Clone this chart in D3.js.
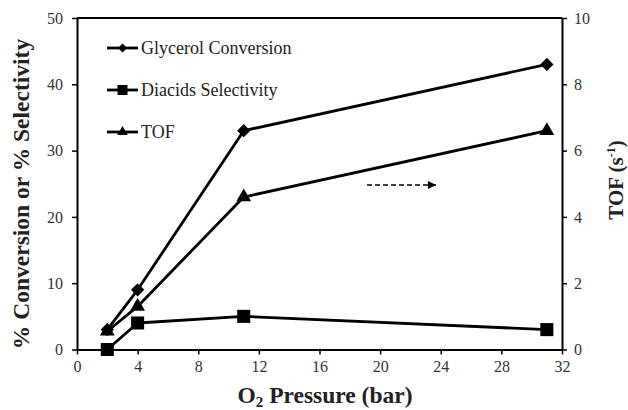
<!DOCTYPE html>
<html><head><meta charset="utf-8">
<script src="https://d3js.org/d3.v7.min.js"></script>
<style>body{margin:0;background:#fff}svg{display:block}
text{font-family:"Liberation Serif" !important;}</style>
</head><body>
<svg id="c" width="628" height="410" font-family="Liberation Serif"></svg>
<script>
const pressure = [2, 4, 11, 31];
const glycerolConversion = [3, 9, 33, 43];
const diacidsSelectivity = [0, 4, 5, 3];
const tof = [0.55, 1.3, 4.6, 6.6];
const xTicks = [0, 4, 8, 12, 16, 20, 24, 28, 32];
const yLeftTicks = [0, 10, 20, 30, 40, 50];
const yRightTicks = [0, 2, 4, 6, 8, 10];
const legendLabels = ["Glycerol Conversion", "Diacids Selectivity", "TOF"];

const svg = d3.select("#c");
const L = 77, R = 562, T = 18, B = 349.5;
const x = d3.scaleLinear().domain([0, 32]).range([L, R]);
const yL = d3.scaleLinear().domain([0, 50]).range([B, T]);
const yR = d3.scaleLinear().domain([0, 10]).range([B, T]);
const font = "Liberation Serif";

// square-ish diamond symbol (size = half diagonal squared)
const squareDiamond = {draw(ctx, size) {
  const r = Math.sqrt(size);
  ctx.moveTo(0, -r); ctx.lineTo(r, 0); ctx.lineTo(0, r); ctx.lineTo(-r, 0); ctx.closePath();
}};

svg.append("line").attr("x1", L).attr("x2", R).attr("y1", T).attr("y2", T)
  .attr("stroke", "#000").attr("stroke-width", 2);

function styleAxis(g) {
  g.attr("font-family", font);
  g.select(".domain").attr("stroke-width", 2);
  g.selectAll(".tick line").attr("stroke-width", 1.5);
  g.selectAll(".tick text").style("font-family", font).style("font-size", "16px").attr("fill", "#333");
}
svg.append("g").attr("transform", `translate(0,${B})`)
  .call(d3.axisBottom(x).tickValues(xTicks).tickSize(5).tickSizeOuter(0).tickPadding(6))
  .call(styleAxis);
svg.append("g").attr("transform", `translate(${L},0)`)
  .call(d3.axisLeft(yL).tickValues(yLeftTicks).tickSize(5).tickSizeOuter(0).tickPadding(9))
  .call(styleAxis);
svg.append("g").attr("transform", `translate(${R},0)`)
  .call(d3.axisRight(yR).tickValues(yRightTicks).tickSize(5).tickSizeOuter(0).tickPadding(7))
  .call(styleAxis);

const series = [
  {vals: glycerolConversion, y: yL, sym: squareDiamond, size: 44, lsize: 20},
  {vals: diacidsSelectivity, y: yL, sym: d3.symbolSquare, size: 170, lsize: 100},
  {vals: tof, y: yR, sym: d3.symbolTriangle, size: 95, lsize: 48}
];
series.forEach(s => {
  const line = d3.line().x((d, i) => x(pressure[i])).y(d => s.y(d));
  svg.append("path").datum(s.vals).attr("d", line).attr("fill", "none")
    .attr("stroke", "#000").attr("stroke-width", 2.8).attr("stroke-linejoin", "round");
  svg.selectAll(null).data(s.vals).enter().append("path")
    .attr("d", d3.symbol().type(s.sym).size(s.size))
    .attr("transform", (d, i) => `translate(${x(pressure[i])},${s.y(d)})`)
    .attr("fill", "#000");
});

const legY = [48, 90, 132];
series.forEach((s, i) => {
  const g = svg.append("g").attr("transform", `translate(107,${legY[i]})`);
  g.append("line").attr("x1", 0).attr("x2", 31).attr("stroke", "#000").attr("stroke-width", 2.8);
  g.append("path").attr("d", d3.symbol().type(s.sym).size(s.lsize)).attr("transform", "translate(15.5,0)");
  g.append("text").attr("x", 34).attr("y", 6).style("font-family", font).style("font-size", "18px")
    .attr("fill", "#222").text(legendLabels[i]);
});

svg.append("defs").append("marker").attr("id", "ah").attr("viewBox", "0 0 10 10")
  .attr("refX", 10).attr("refY", 5).attr("markerWidth", 8).attr("markerHeight", 8)
  .attr("markerUnits", "userSpaceOnUse").attr("orient", "auto")
  .append("path").attr("d", "M0,0L10,5L0,10Z").attr("fill", "#000");
svg.append("line").attr("x1", 367).attr("x2", 436).attr("y1", 185).attr("y2", 185)
  .attr("stroke", "#000").attr("stroke-width", 1.5).attr("stroke-dasharray", "5,3")
  .attr("marker-end", "url(#ah)");

const xt = svg.append("text").attr("x", 325).attr("y", 403).attr("text-anchor", "middle")
  .style("font-family", font).style("font-weight", "bold").style("font-size", "23.5px").attr("fill", "#222");
xt.append("tspan").text("O");
xt.append("tspan").style("font-size", "15px").attr("dy", 4).text("2");
xt.append("tspan").attr("dy", -4).text(" Pressure (bar)");

svg.append("text").attr("transform", "translate(29,194) rotate(-90)").attr("text-anchor", "middle")
  .style("font-family", font).style("font-weight", "bold").style("font-size", "23.5px").attr("fill", "#222")
  .text("% Conversion or % Selectivity");

const rt = svg.append("text").attr("transform", "translate(623,180) rotate(-90)").attr("text-anchor", "middle")
  .style("font-family", font).style("font-weight", "bold").style("font-size", "21px").attr("fill", "#222");
rt.append("tspan").text("TOF (s");
rt.append("tspan").style("font-size", "12px").attr("dy", -8).text("-1");
rt.append("tspan").attr("dy", 8).text(")");
</script>
</body></html>
